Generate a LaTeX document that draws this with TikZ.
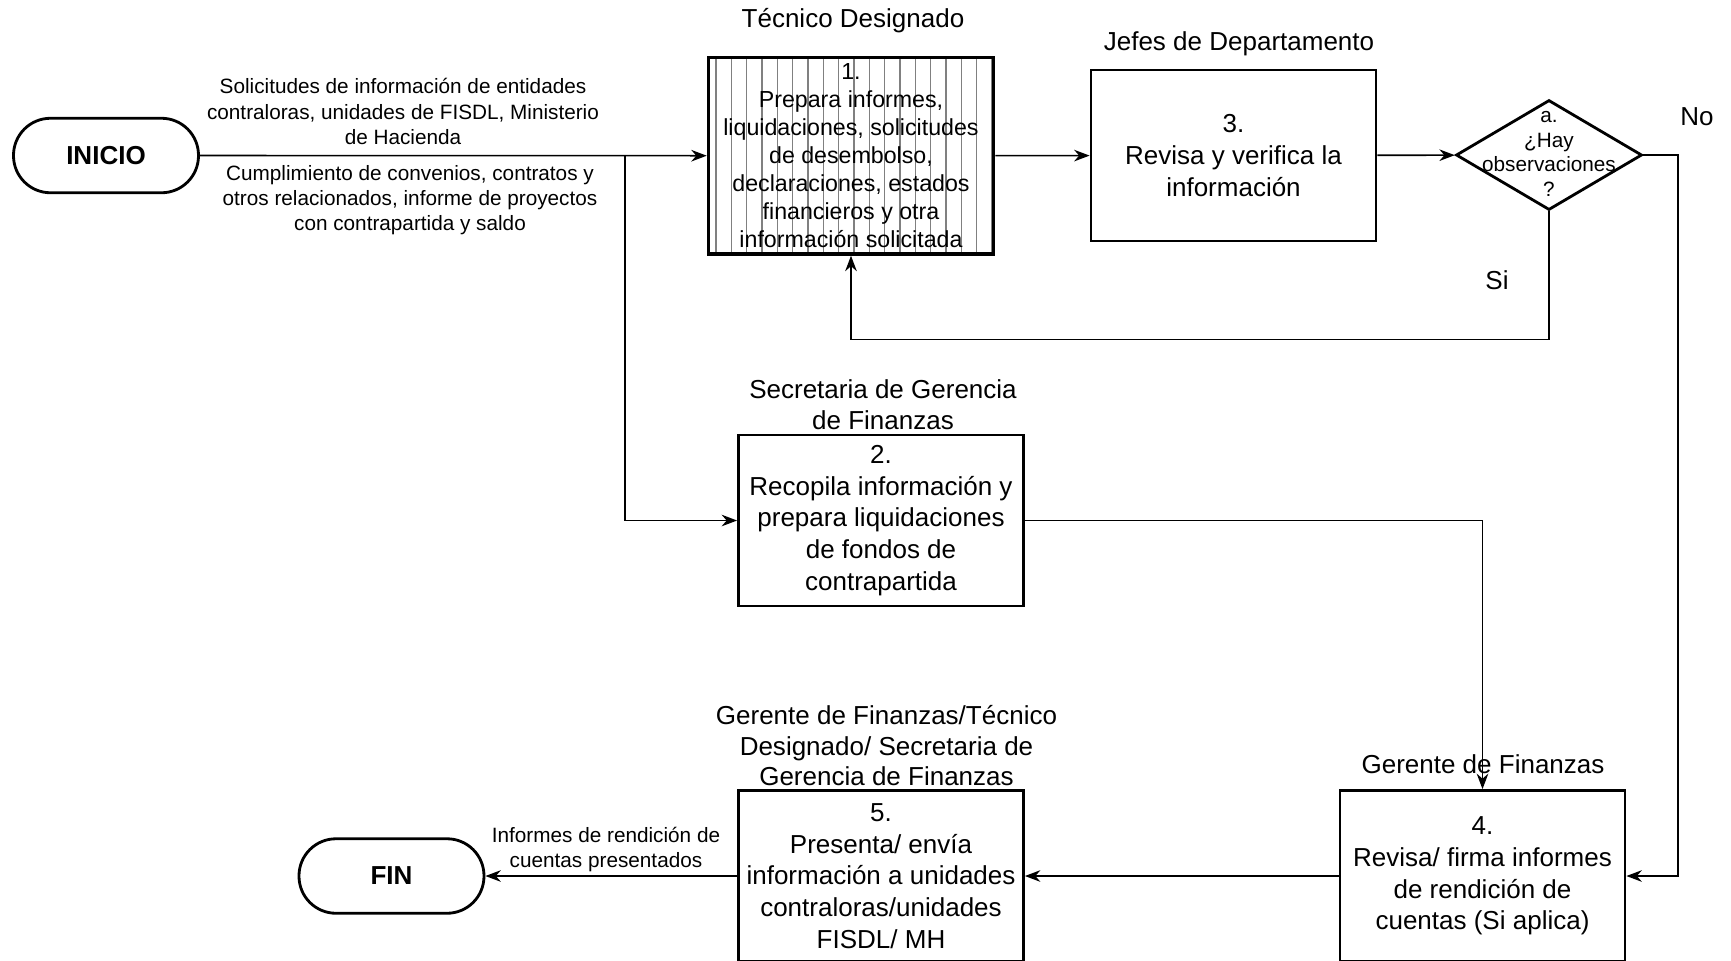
\documentclass[tikz,border=0pt]{standalone}
\usepackage{fontspec}
\setmainfont{Liberation Sans}
\usetikzlibrary{arrows.meta,shapes.geometric,backgrounds}
\begin{document}
\begin{tikzpicture}[
    >={Stealth[length=4.4pt,width=3.3pt]},
    box/.style={
        draw=black,
        line width=0.8pt,
        minimum width=2.85cm,
        minimum height=1.71cm,
        align=center,
        inner sep=1pt,
        font=\fontsize{7.4}{9}\selectfont
    },
    hatchbox/.style={box, line width=1pt, minimum height=1.965cm, font=\fontsize{6.6}{8}\selectfont},
    term/.style={
        draw=black,
        line width=0.8pt,
        rounded corners=0.37cm,
        minimum width=1.85cm,
        minimum height=0.745cm,
        font=\fontsize{7.4}{9}\selectfont\bfseries
    },
    decision/.style={diamond, draw=black, line width=0.8pt, minimum width=1.86cm, minimum height=1.1cm, inner sep=0pt},
    role/.style={align=center, inner sep=0pt, font=\fontsize{7.4}{8.8}\selectfont},
    note/.style={align=center, inner sep=0pt, font=\fontsize{5.9}{7.2}\selectfont},
    hatch/.style={draw=black!50, line width=0.35pt},
    arr/.style={->, line width=0.45pt}
]
    \useasboundingbox (0,0) rectangle (17.31,-9.6);

    \node[term] (inicio) at (1.06,-1.555) {INICIO};
    \node[hatchbox] (tec) at (8.51,-1.557) {1.\\Prepara informes,\\liquidaciones, solicitudes\\de desembolso,\\declaraciones, estados\\financieros y otra\\información solicitada};
    \node[box] (jefes) at (12.335,-1.555) {3.\\Revisa y verifica la\\información};
    \node[decision] (obs) at (15.49,-1.55) {};
    \node[note, font=\fontsize{5.9}{7}\selectfont] (obstxt) at (15.49,-1.54) {a.\\¿Hay\\observaciones\\?};
    \node[box] (secr) at (8.81,-5.205) {2.\\Recopila información y\\prepara liquidaciones\\de fondos de\\contrapartida};
    \node[box] (ger) at (14.825,-8.76) {4.\\Revisa/ firma informes\\de rendición de\\cuentas (Si aplica)};
    \node[box] (pres) at (8.81,-8.76) {5.\\Presenta/ envía\\información a unidades\\contraloras/unidades\\FISDL/ MH};
    \node[term] (fin) at (3.915,-8.76) {FIN};

    \begin{scope}[on background layer]
        \foreach \i in {0,...,18}
            \draw[hatch] ({7.16+0.1533*\i},-0.574) -- ({7.16+0.1533*\i},-2.54);
    \end{scope}

    % responsables
    \node[role] (rtec) at (8.53,-0.21) {Técnico Designado};
    \node[role] (rjefes) at (12.39,-0.44) {Jefes de Departamento};
    \node[role] (rsecr) at (8.83,-4.05) {Secretaria de Gerencia\\de Finanzas};
    \node[role] (rger) at (14.83,-7.64) {Gerente de Finanzas};
    \node[role] (rpres) at (8.865,-7.456) {Gerente de Finanzas/Técnico\\Designado/ Secretaria de\\Gerencia de Finanzas};

    \node[note] (qin) at (4.03,-1.115) {Solicitudes de información de entidades\\contraloras, unidades de FISDL, Ministerio\\de Hacienda};
    \node[note] (qcum) at (4.10,-2.0) {Cumplimiento de convenios, contratos y\\otros relacionados, informe de proyectos\\con contrapartida y saldo};
    \node[note] (qfin) at (6.06,-8.495) {Informes de rendición de\\cuentas presentados};
    \node[role] (lsi) at (14.97,-2.80) {Si};
    \node[role] (lno) at (16.97,-1.17) {No};

    \coordinate (split) at (6.25,-1.555);
    \coordinate (siturn) at (15.49,-3.395);
    \coordinate (noturn) at (16.78,-1.55);

    \draw[arr] (inicio.east) -- (tec.west);
    \draw[arr] (split) |- (secr.west);
    \draw[arr] (tec) -- (jefes);
    \draw[arr] (jefes) -- (obs);
    \draw[arr] (obs.south) -- (siturn) -| (tec.south);
    \draw[arr] (obs.east) -- (noturn) |- (ger.east);
    \draw[arr] (secr.east) -| (ger.north);
    \draw[arr] (ger) -- (pres);
    \draw[arr] (pres) -- (fin);
\end{tikzpicture}
\end{document}
